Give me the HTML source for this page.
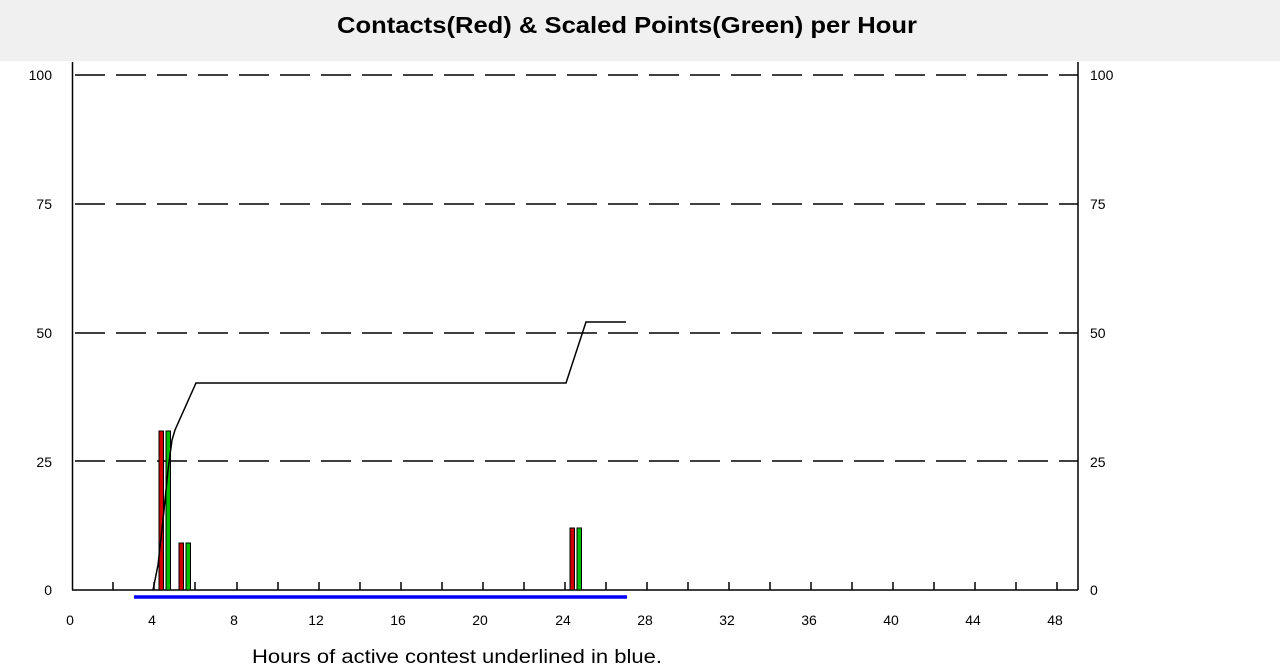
<!DOCTYPE html>
<html><head><style>body{margin:0;background:#fff}svg{display:block}</style></head><body>
<svg width="1280" height="672" xmlns="http://www.w3.org/2000/svg" font-family="Liberation Sans, Arial, sans-serif">
<rect x="0" y="0" width="1280" height="61" fill="#f0f0f0"/>
<text x="627" y="33" font-size="23" font-weight="bold" text-anchor="middle" textLength="580" lengthAdjust="spacingAndGlyphs">Contacts(Red) &amp; Scaled Points(Green) per Hour</text>
<g stroke="#000" stroke-width="1.5" stroke-dasharray="30 11" fill="none">
<line x1="75" y1="75" x2="1078" y2="75"/>
<line x1="75" y1="204" x2="1078" y2="204"/>
<line x1="75" y1="333" x2="1078" y2="333"/>
<line x1="75" y1="461" x2="1078" y2="461"/>
</g>
<g stroke="#000" stroke-width="1.5">
<line x1="72.5" y1="62" x2="72.5" y2="590"/>
<line x1="1078" y1="62" x2="1078" y2="590"/>
<line x1="72" y1="590" x2="1078" y2="590"/>
</g>
<g stroke="#000" stroke-width="1.5" id="ticks">
<line x1="113" y1="582" x2="113" y2="590"/><line x1="154" y1="582" x2="154" y2="590"/><line x1="195" y1="582" x2="195" y2="590"/><line x1="237" y1="582" x2="237" y2="590"/>
<line x1="278" y1="582" x2="278" y2="590"/><line x1="319" y1="582" x2="319" y2="590"/><line x1="360" y1="582" x2="360" y2="590"/><line x1="401" y1="582" x2="401" y2="590"/>
<line x1="442" y1="582" x2="442" y2="590"/><line x1="483" y1="582" x2="483" y2="590"/><line x1="524" y1="582" x2="524" y2="590"/><line x1="565" y1="582" x2="565" y2="590"/>
<line x1="606" y1="582" x2="606" y2="590"/><line x1="647" y1="582" x2="647" y2="590"/><line x1="688" y1="582" x2="688" y2="590"/><line x1="729" y1="582" x2="729" y2="590"/>
<line x1="770" y1="582" x2="770" y2="590"/><line x1="811" y1="582" x2="811" y2="590"/><line x1="852" y1="582" x2="852" y2="590"/><line x1="893" y1="582" x2="893" y2="590"/>
<line x1="934" y1="582" x2="934" y2="590"/><line x1="975" y1="582" x2="975" y2="590"/><line x1="1016" y1="582" x2="1016" y2="590"/><line x1="1057" y1="582" x2="1057" y2="590"/>
</g>
<g stroke="#000" stroke-width="1">
<rect x="159" y="431" width="4.5" height="159" fill="#d00000"/>
<rect x="166" y="431" width="4.5" height="159" fill="#00c000"/>
<rect x="179" y="543" width="4.5" height="47" fill="#d00000"/>
<rect x="186" y="543" width="4.5" height="47" fill="#00c000"/>
<rect x="570" y="528" width="4.5" height="62" fill="#d00000"/>
<rect x="577" y="528" width="4.5" height="62" fill="#00c000"/>
</g>
<polyline points="153,590 158,565 163,520 168,470 172,440 175,430 196,383 566,383 586,322 626,322" fill="none" stroke="#000" stroke-width="1.5"/>
<line x1="134" y1="597" x2="627" y2="597" stroke="#0000ff" stroke-width="3.5"/>
<g font-size="14" fill="#000">
<g text-anchor="end">
<text x="52" y="80">100</text><text x="52" y="209">75</text><text x="52" y="338">50</text><text x="52" y="467">25</text><text x="52" y="595">0</text>
</g>
<text x="1090" y="80">100</text><text x="1090" y="209">75</text><text x="1090" y="338">50</text><text x="1090" y="467">25</text><text x="1090" y="595">0</text>
<g text-anchor="middle">
<text x="70" y="625">0</text><text x="152" y="625">4</text><text x="234" y="625">8</text><text x="316" y="625">12</text><text x="398" y="625">16</text><text x="480" y="625">20</text><text x="563" y="625">24</text><text x="645" y="625">28</text><text x="727" y="625">32</text><text x="809" y="625">36</text><text x="891" y="625">40</text><text x="973" y="625">44</text><text x="1055" y="625">48</text>
</g>
</g>
<text x="457" y="663" font-size="19" text-anchor="middle" textLength="410" lengthAdjust="spacingAndGlyphs">Hours of active contest underlined in blue.</text>
</svg>
</body></html>
